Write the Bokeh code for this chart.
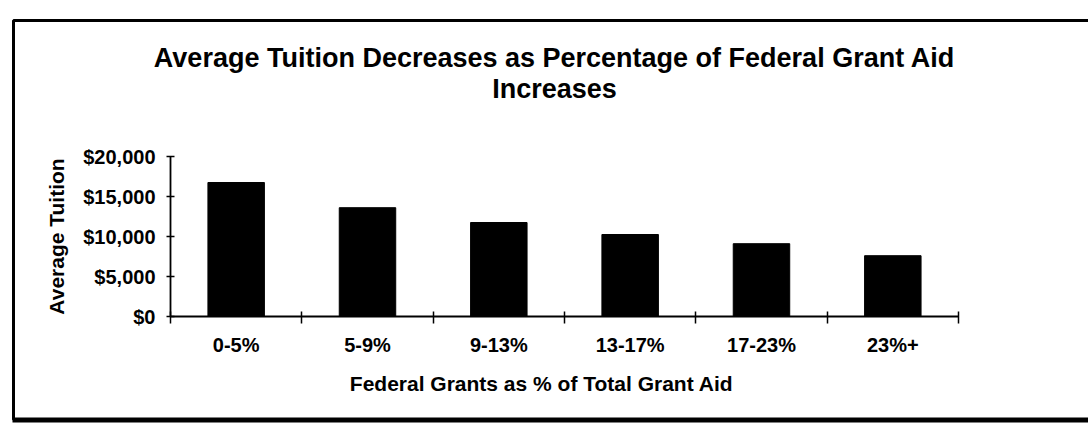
from bokeh.plotting import figure
from bokeh.models import Range1d, LinearAxis, FixedTicker, BoxAnnotation, Label
from bokeh.embed import file_html
from bokeh.resources import INLINE

# ---- data ----
categories = ["0-5%", "5-9%", "9-13%", "13-17%", "17-23%", "23%+"]
avg_tuition = [16750, 13600, 11750, 10250, 9100, 7600]
y_ticks = [0, 5000, 10000, 15000, 20000]
y_tick_labels = ["$0", "$5,000", "$10,000", "$15,000", "$20,000"]
title_lines = ["Average Tuition Decreases as Percentage of Federal Grant Aid", "Increases"]
x_title = "Federal Grants as  % of Total Grant Aid"
y_title = "Average Tuition"

# ---- layout constants (pixels) ----
W, H = 1088, 431
X0_PX, UNIT_PX = 170.0, 131.33      # x pixel of category boundary 0, px per category
Y0_PX, PX_PER_VAL = 316.0, 0.008    # y pixel of $0, px per dollar
FONT = "Liberation Sans"


def dx(px):
    return (px - X0_PX) / UNIT_PX


def dy(py):
    return (Y0_PX - py) / PX_PER_VAL


n = len(categories)
p = figure(width=W, height=H, output_backend="svg", toolbar_location=None,
           x_range=Range1d(dx(0), dx(W)), y_range=Range1d(dy(H), dy(0)),
           x_axis_type=None, y_axis_type=None, min_border=0,
           outline_line_color=None, background_fill_color="white",
           border_fill_color="white")

# bars
centers = [i + 0.5 for i in range(n)]
p.vbar(x=centers, top=avg_tuition, width=0.43, bottom=0,
       fill_color="black", line_color="black")

# y axis
yaxis = LinearAxis(fixed_location=0, bounds=(0, 20000),
                   ticker=FixedTicker(ticks=y_ticks, minor_ticks=[]),
                   major_label_overrides={t: s for t, s in zip(y_ticks, y_tick_labels)},
                   axis_label=y_title)
yaxis.axis_line_width = 1.8
yaxis.major_tick_line_width = 1.5
yaxis.major_tick_in = 4
yaxis.major_tick_out = 4
yaxis.minor_tick_line_color = None
yaxis.major_label_standoff = 11
yaxis.major_label_text_font = FONT
yaxis.major_label_text_font_style = "bold"
yaxis.major_label_text_font_size = "20px"
yaxis.major_label_text_color = "black"
yaxis.axis_label_text_font = FONT
yaxis.axis_label_text_font_style = "bold"
yaxis.axis_label_text_font_size = "21px"
yaxis.axis_label_text_color = "black"
yaxis.axis_label_standoff = 12
p.add_layout(yaxis, "left")

# x axis line with ticks at category boundaries
xaxis = LinearAxis(fixed_location=0, bounds=(0, n),
                   ticker=FixedTicker(ticks=list(range(n + 1)), minor_ticks=[]),
                   major_label_overrides={i: "" for i in range(n + 1)})
xaxis.axis_line_width = 1.8
xaxis.major_tick_line_width = 1.5
xaxis.major_tick_in = 5
xaxis.major_tick_out = 7
xaxis.minor_tick_line_color = None
p.add_layout(xaxis, "below")

# category labels centred under bars + axis title
xlab = LinearAxis(fixed_location=0,
                  ticker=FixedTicker(ticks=centers, minor_ticks=[]),
                  major_label_overrides={c: s for c, s in zip(centers, categories)},
                  axis_label=x_title)
xlab.axis_line_color = None
xlab.major_tick_line_color = None
xlab.minor_tick_line_color = None
xlab.major_tick_in = 0
xlab.major_tick_out = 0
xlab.major_label_standoff = 17
xlab.major_label_text_font = FONT
xlab.major_label_text_font_style = "bold"
xlab.major_label_text_font_size = "20px"
xlab.major_label_text_color = "black"
xlab.axis_label_text_font = FONT
xlab.axis_label_text_font_style = "bold"
xlab.axis_label_text_font_size = "21px"
xlab.axis_label_text_color = "black"
xlab.axis_label_standoff = 13
p.add_layout(xlab, "below")

# title (two lines)
for line, py in zip(title_lines, [57, 88]):
    p.add_layout(Label(x=dx(554), y=dy(py), text=line, text_align="center",
                       text_baseline="middle", text_font=FONT,
                       text_font_style="bold", text_font_size="27px",
                       text_color="black"))

# chart border box (right side runs off the page), heavier bottom edge
p.add_layout(BoxAnnotation(left=dx(13), right=dx(W + 20), top=dy(20), bottom=dy(419),
                           fill_alpha=0, line_color="black", line_alpha=1.0,
                           line_width=3))
p.add_layout(BoxAnnotation(left=dx(12), right=dx(W + 20), top=dy(417), bottom=dy(422),
                           fill_color="black", fill_alpha=1.0, line_alpha=0))

open("out.html", "w").write(file_html(p, INLINE))
